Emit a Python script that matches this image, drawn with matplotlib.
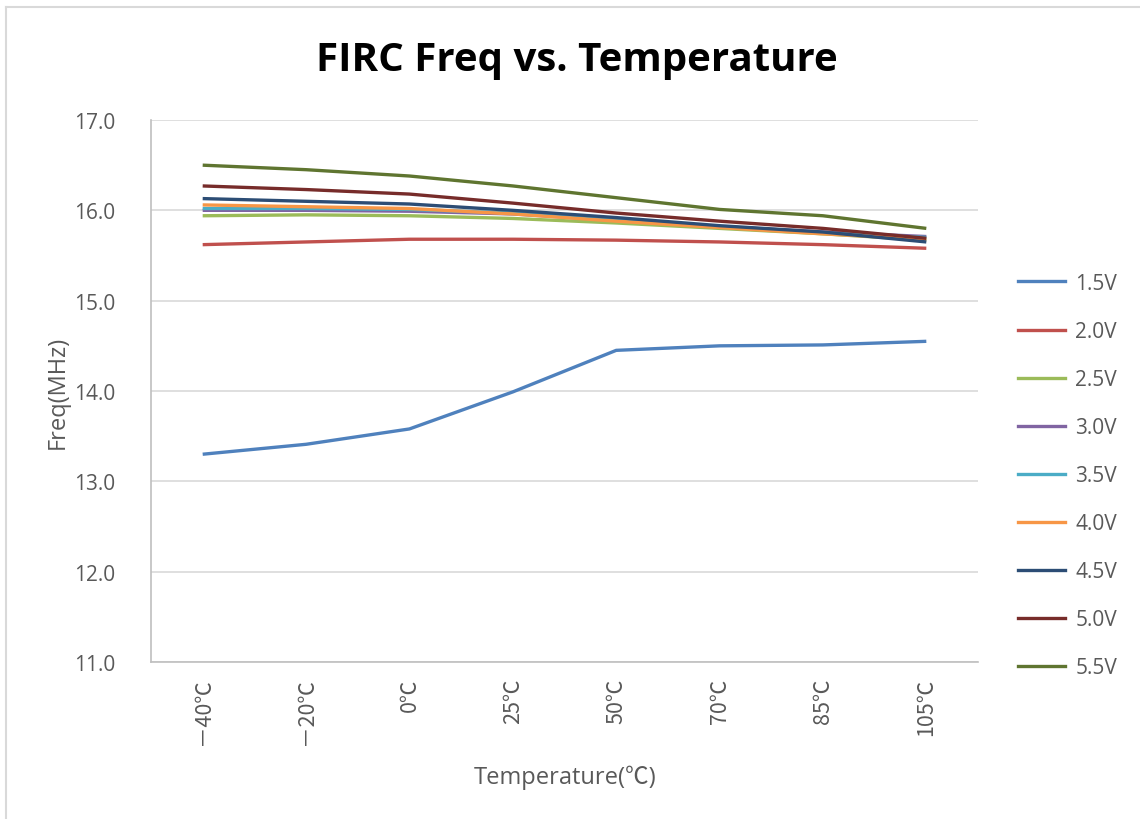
import numpy as np
import matplotlib.pyplot as plt
from matplotlib.lines import Line2D

temps = ['－40℃', '－20℃', '0℃', '25℃', '50℃', '70℃', '85℃', '105℃']
series_names = ['1.5V', '2.0V', '2.5V', '3.0V', '3.5V', '4.0V', '4.5V', '5.0V', '5.5V']

f_15 = [13.30, 13.41, 13.58, 13.99, 14.45, 14.50, 14.51, 14.55]
f_20 = [15.62, 15.65, 15.68, 15.68, 15.67, 15.65, 15.62, 15.58]
f_25 = [15.94, 15.95, 15.94, 15.91, 15.86, 15.80, 15.74, 15.67]
f_30 = [16.00, 16.00, 15.99, 15.96, 15.89, 15.82, 15.76, 15.71]
f_35 = [16.02, 16.02, 16.01, 15.97, 15.90, 15.82, 15.75, 15.70]
f_40 = [16.06, 16.04, 16.02, 15.96, 15.88, 15.81, 15.74, 15.68]
f_45 = [16.13, 16.10, 16.07, 16.00, 15.92, 15.83, 15.76, 15.65]
f_50 = [16.27, 16.23, 16.18, 16.08, 15.97, 15.88, 15.80, 15.69]
f_55 = [16.50, 16.45, 16.38, 16.27, 16.14, 16.01, 15.94, 15.80]

colors = ['#4F81BD', '#C0504D', '#9BBB59', '#8064A2', '#4BACC6',
          '#F79646', '#2C4D75', '#772C2A', '#5F7530']

all_series = [f_15, f_20, f_25, f_30, f_35, f_40, f_45, f_50, f_55]
txt = '#595959'

fig = plt.figure(figsize=(11.4, 8.2), dpi=100)
ax = fig.add_axes([151/1140, 1-663/820, (978-151)/1140, (663-121)/820])

x = np.arange(len(temps))
for vals, name, c in zip(all_series, series_names, colors):
    ax.plot(x, vals, color=c, lw=2.4, label=name, solid_capstyle='butt')

ax.set_xlim(-0.5, len(temps)-0.5)
ax.set_ylim(11.0, 17.0)
yt = np.arange(11, 17.5, 1.0)
ax.set_yticks(yt)
ax.set_yticklabels(['%.1f' % v for v in yt], fontsize=15, color=txt,
                   family=['Open Sans', 'DejaVu Sans'])
ax.set_xticks(x)
ax.set_xticklabels(temps, rotation=90, fontsize=15.5, color=txt,
                   family=['Noto Sans CJK SC', 'DejaVu Sans'])
ax.tick_params(axis='both', length=0)
ax.tick_params(axis='y', pad=26)
ax.tick_params(axis='x', pad=11)
ax.grid(axis='y', color='#D9D9D9', lw=1.2)
ax.set_axisbelow(True)
for s in ['top', 'right']:
    ax.spines[s].set_visible(False)
for s in ['left', 'bottom']:
    ax.spines[s].set_color('#BFBFBF')
    ax.spines[s].set_linewidth(1.2)

fig.text(58/1140, 1-392/820, 'Freq(MHz)', fontsize=17, color=txt, rotation=90,
         ha='center', va='center', family=['Open Sans', 'DejaVu Sans'])
fig.text(565/1140, 1-778/820, 'Temperature(℃)', fontsize=17, color=txt,
         ha='center', va='center', family=['Open Sans', 'Noto Sans CJK SC'])
fig.text(577/1140, 1-60/820, 'FIRC Freq vs. Temperature', fontsize=29,
         fontweight='bold', ha='center', va='center', color='black',
         family=['Open Sans', 'DejaVu Sans'])

handles = [Line2D([], [], color=c, lw=2.4) for c in colors]
fig.legend(handles, series_names, loc='upper left',
           bbox_to_anchor=(999/1140, 1-255/820), frameon=False,
           labelcolor=txt, handlelength=2.27,
           labelspacing=1.30, handletextpad=0.5,
           prop={'family': ['Open Sans', 'DejaVu Sans'], 'size': 15})

fig.add_artist(Line2D([6/1140, 6/1140], [0, 1-8/820], color='#D9D9D9', lw=1.5))
fig.add_artist(Line2D([6/1140, 1], [1-8/820, 1-8/820], color='#D9D9D9', lw=1.5))

fig.savefig('out.png', dpi=100)
